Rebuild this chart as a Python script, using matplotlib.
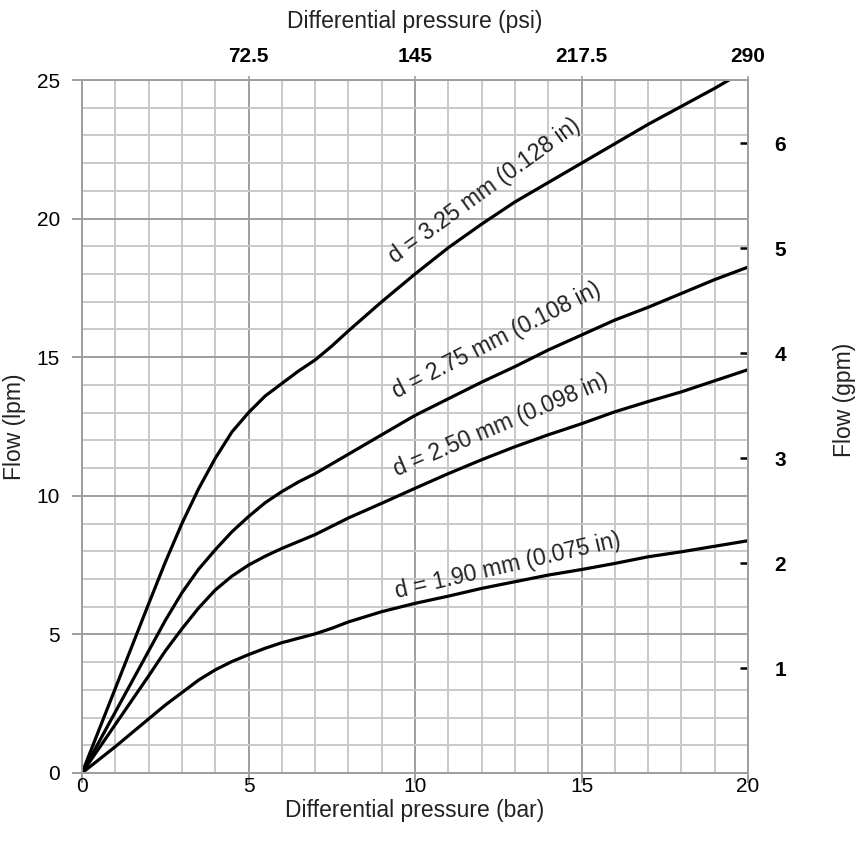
import matplotlib
matplotlib.use("Agg")
import matplotlib.pyplot as plt
import numpy as np

plt.rcParams["font.family"] = ["Liberation Sans", "DejaVu Sans"]

# pressure (bar) and flow (lpm)
bar_x = [0, 1, 2, 2.5, 3, 3.5, 4, 4.5, 5, 5.5, 6, 6.5, 7, 7.5, 8, 9, 10, 11, 12, 13, 14,
         15, 16, 17, 18, 19, 20]
flow_325 = [0, 3.05, 6.1, 7.6, 9.0, 10.25, 11.35, 12.3, 13.0, 13.6, 14.05, 14.5, 14.9, 15.4,
            15.95, 17.0, 18.0, 18.95, 19.8, 20.6, 21.3, 22.0, 22.7, 23.4, 24.05, 24.7, 25.4]
flow_275 = [0, 2.2, 4.4, 5.5, 6.5, 7.35, 8.05, 8.7, 9.25, 9.75, 10.15, 10.5, 10.8, 11.15,
            11.5, 12.2, 12.9, 13.5, 14.1, 14.66, 15.26, 15.8, 16.34, 16.8, 17.3, 17.8, 18.25]
flow_250 = [0, 1.75, 3.5, 4.4, 5.2, 5.95, 6.6, 7.1, 7.5, 7.82, 8.1, 8.35, 8.6, 8.9,
            9.2, 9.73, 10.27, 10.8, 11.3, 11.77, 12.2, 12.6, 13.03, 13.4, 13.75, 14.15, 14.55]
flow_190 = [0, 0.95, 1.95, 2.45, 2.9, 3.35, 3.72, 4.02, 4.27, 4.5, 4.7, 4.86, 5.02, 5.22,
            5.45, 5.82, 6.12, 6.38, 6.66, 6.9, 7.14, 7.34, 7.56, 7.8, 7.98, 8.18, 8.38]

labels = ["d = 3.25 mm (0.128 in)", "d = 2.75 mm (0.108 in)",
          "d = 2.50 mm (0.098 in)", "d = 1.90 mm (0.075 in)"]
label_pos = [(9.4, 18.35), (9.45, 13.5), (9.45, 10.7), (9.45, 6.3)]
label_rot = [36, 27, 23, 13]

psi_ticks = [72.5, 145, 217.5, 290]
psi_labels = ["72.5", "145", "217.5", "290"]
gpm_ticks = [1, 2, 3, 4, 5, 6]

BAR_TO_PSI = 14.5
GPM_TO_LPM = 3.785

fig = plt.figure(figsize=(8.58, 8.52), dpi=100)
ax = fig.add_axes([82 / 858, 1 - 773 / 852, (748 - 82) / 858, (773 - 80) / 852])

ax.set_xlim(0, 20)
ax.set_ylim(0, 25)

# grid
ax.set_xticks(np.arange(0, 21, 5))
ax.set_yticks(np.arange(0, 26, 5))
ax.set_xticks(np.arange(0, 21, 1), minor=True)
ax.set_yticks(np.arange(0, 26, 1), minor=True)
ax.grid(which="minor", color="#c9c9c9", linewidth=1.4)
ax.grid(which="major", color="#9e9e9e", linewidth=1.4)
ax.set_axisbelow(True)
for s in ax.spines.values():
    s.set_color("#9e9e9e")
    s.set_linewidth(1.4)

ax.tick_params(which="minor", length=0)
ax.tick_params(which="major", length=7, width=1.4, color="#9e9e9e", labelsize=15)
ax.tick_params(axis="x", pad=-4)
ax.tick_params(axis="y", pad=9)

ax.plot(bar_x, flow_325, color="black", linewidth=2.3, solid_joinstyle="round")
ax.plot(bar_x, flow_275, color="black", linewidth=2.3, solid_joinstyle="round")
ax.plot(bar_x, flow_250, color="black", linewidth=2.3, solid_joinstyle="round")
ax.plot(bar_x, flow_190, color="black", linewidth=2.3, solid_joinstyle="round")

for txt, (px, py), rot in zip(labels, label_pos, label_rot):
    ax.text(px, py, txt, rotation=rot, rotation_mode="anchor", ha="left",
            va="baseline", fontsize=16.5, color="#222222")

ax.set_xlabel("Differential pressure (bar)", fontsize=16.5, labelpad=2, color="#222222")
ax.set_ylabel("Flow (lpm)", fontsize=16.5, color="#222222")
ax.yaxis.set_label_coords((26 - 82) / 666, 0.5)

# top axis in psi
top = ax.secondary_xaxis("top", functions=(lambda b: b * BAR_TO_PSI, lambda p: p / BAR_TO_PSI))
top.set_xticks(psi_ticks)
top.set_xticklabels(psi_labels, fontweight="bold")
top.tick_params(length=3, width=1.2, color="#9e9e9e", labelsize=15, pad=7)
top.spines["top"].set_visible(False)
top.set_xlabel("Differential pressure (psi)", fontsize=16.5, labelpad=14, color="#222222")

# right axis in gpm
right = ax.secondary_yaxis("right", functions=(lambda l: l / GPM_TO_LPM, lambda g: g * GPM_TO_LPM))
right.set_yticks(gpm_ticks)
right.set_yticklabels([str(g) for g in gpm_ticks], fontweight="bold")
right.tick_params(direction="in", length=5.5, width=1.8, color="black", labelsize=15, pad=19)
right.spines["right"].set_visible(False)
fig.text(845 / 858, 1 - 400 / 852, "Flow (gpm)", rotation=90, ha="center", va="center",
         fontsize=16.5, color="#222222")

fig.savefig("out.png", dpi=100)
